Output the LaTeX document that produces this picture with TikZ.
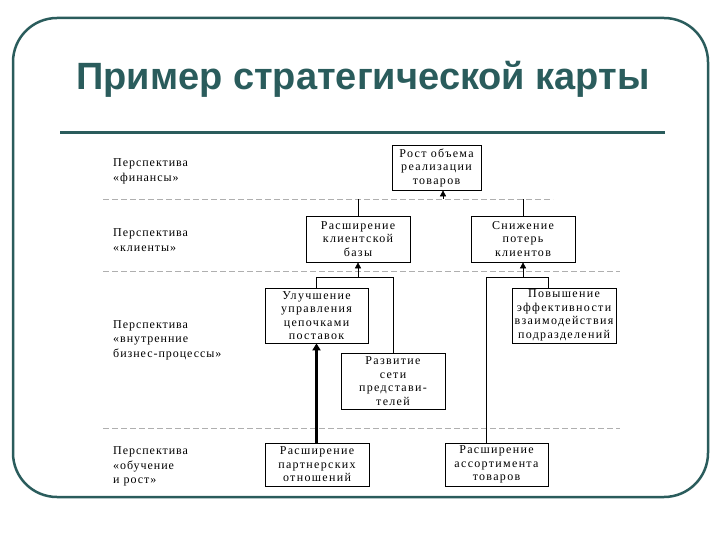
\documentclass[tikz,border=0pt]{standalone}
\usepackage{fontspec}
\setmainfont{Liberation Serif}
\newfontfamily\titlefont{Liberation Sans}
\newfontfamily\diagfont[LetterSpace=8]{Liberation Serif}
\newfontfamily\boxfont[LetterSpace=11]{Liberation Serif}
\usetikzlibrary{arrows.meta}
\definecolor{teal1}{RGB}{42,92,92}
\definecolor{dashgray}{RGB}{175,175,175}
\tikzset{
  mbox/.style={draw=black, line width=0.7pt, inner sep=0pt, align=center,
    font=\boxfont\fontsize{12}{13.5}\selectfont},
  persp/.style={anchor=west, inner sep=0pt, align=left,
    font=\diagfont\fontsize{12}{14.5}\selectfont},
  sep/.style={draw=dashgray, line width=0.8pt, dash pattern=on 6pt off 3pt},
  conn/.style={draw=black, line width=0.6pt},
  arr/.style={conn, -{Triangle[width=6pt,length=6pt]}},
  thickarr/.style={draw=black, line width=2.4pt, -{Triangle[width=8pt,length=7pt]}}
}
\begin{document}
\begin{tikzpicture}[x=1pt,y=-1pt]
\useasboundingbox (0,0) rectangle (720,540);
\fill[white] (0,0) rectangle (720,540);
% frame
\draw[teal1, line width=2.5pt, rounded corners=44pt] (13,18) rectangle (708,497);
\node[anchor=base, inner sep=0pt, text=teal1, font=\titlefont\bfseries\fontsize{38}{40}\selectfont] (title) at (363,90) {Пример стратегической карты};
\draw[teal1, line width=3pt] (60,133) -- (665,133);

% separators
\coordinate (d1l) at (103,199); \coordinate (d1r) at (553,199);
\coordinate (d2l) at (103,271); \coordinate (d2r) at (620,271);
\coordinate (d3l) at (103,428); \coordinate (d3r) at (620,428);
\draw[sep] (d1l) -- (d1r);
\draw[sep] (d2l) -- (d2r);
\draw[sep] (d3l) -- (d3r);

% perspective labels
\node[persp] (pf) at (113,171.5) {Перспектива\\«финансы»};
\node[persp] (pc) at (113,240) {Перспектива\\«клиенты»};
\node[persp] (pi) at (113,340) {Перспектива\\«внутренние\\бизнес-процессы»};
\node[persp] (pl) at (113,466.5) {Перспектива\\«обучение\\и рост»};

% boxes
\node[mbox, minimum width=89pt, minimum height=45pt] (rost) at (436.5,167.5) {Рост объема\\реализации\\товаров};
\node[mbox, minimum width=104pt, minimum height=46pt] (klient) at (358,239) {Расширение\\клиентской\\базы};
\node[mbox, minimum width=104pt, minimum height=46pt] (snizh) at (523,239) {Снижение\\потерь\\клиентов};
\node[mbox, minimum width=103pt, minimum height=55pt] (uluch) at (316.5,315.5) {Улучшение\\управления\\цепочками\\поставок};
\node[mbox, minimum width=104pt, minimum height=55pt] (povysh) at (564,315.5) {Повышение\\эффективности\\взаимодействия\\подразделений};
\node[mbox, minimum width=104pt, minimum height=56pt] (razv) at (393,381) {Развитие\\сети\\представи-\\телей};
\node[mbox, minimum width=104pt, minimum height=43pt] (partn) at (317,464.5) {Расширение\\партнерских\\отношений};
\node[mbox, minimum width=103pt, minimum height=43pt] (assort) at (496.5,464.5) {Расширение\\ассортимента\\товаров};

% connectors level finance
\coordinate (r1) at (443,199);
\draw[arr] (r1) -- (r1 |- rost.south);
\draw[conn] (klient.north) -- (klient.north |- d1l);
\draw[conn] (snizh.north) -- (snizh.north |- d1l);

% connectors level clients
\coordinate (j1) at (0,277);
\draw[conn] (uluch.north) -- (uluch.north |- j1) -- (razv.north |- j1) -- (razv.north);
\draw[arr] (klient.south |- j1) -- (klient.south);

\coordinate (pv) at (548,0);
\coordinate (as) at (486,0);
\draw[conn] (pv |- povysh.north) -- (pv |- j1) -- (as |- j1) -- (as |- assort.north);
\draw[arr] (snizh.south |- j1) -- (snizh.south);

% learning to internal
\draw[thickarr] (partn.north -| uluch.south) -- (uluch.south);
\end{tikzpicture}
\end{document}
